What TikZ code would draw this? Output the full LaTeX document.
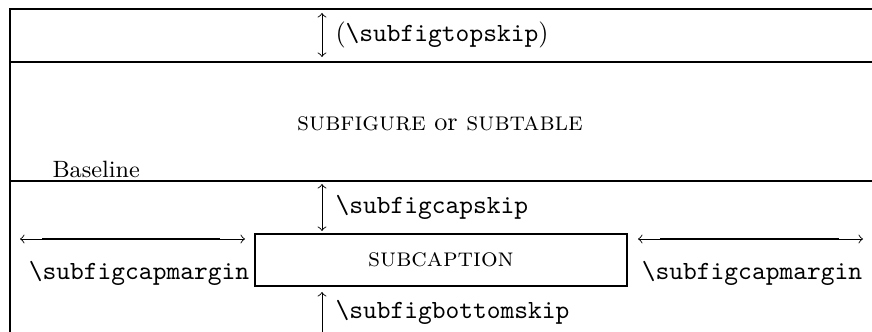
\documentclass[tikz,border=0pt]{standalone}
\usepackage{tikz}
\usetikzlibrary{positioning, arrows.meta, calc}

\begin{document}
\begin{tikzpicture}[
    x=0.3817pt, y=-0.3817pt,
    frameline/.style={line width=0.9pt},
    dimarrow/.style={<->, >=to, line width=0.35pt},
    dimrule/.style={line width=1pt},
    skiplabel/.style={anchor=west, inner sep=0pt, font=\ttfamily},
    capbox/.style={rectangle, draw=black, line width=0.9pt, minimum width=142pt, minimum height=19.8pt}
]
\useasboundingbox (0,0) rectangle (872,332);

% frame
\coordinate (tl) at (10,9);
\coordinate (tr) at (872,9);
\coordinate (bl) at (10,336);
\draw[frameline] (tr) -- (tl) -- (bl);
\draw[frameline] (10,62) -- (872,62);
\draw[frameline] (10,181) -- (872,181);

% top skip
\coordinate (top_a) at (322,13);
\coordinate (top_b) at (322,57);
\draw[dimarrow] (top_a) -- (top_b);
\node[skiplabel](topskip) at (335,35){\rmfamily(\ttfamily\textbackslash subfigtopskip\rmfamily)};

% subfigure body
\node(body) at (440,124){\textsc{subfigure} or \textsc{subtable}};
\node[anchor=base west, inner sep=0pt, font=\small](base) at (52,178){Baseline};

% caption skip
\coordinate (cap_a) at (322,184);
\coordinate (cap_b) at (322,231);
\draw[dimarrow] (cap_a) -- (cap_b);
\node[skiplabel](capskip) at (335,207){\textbackslash subfigcapskip};

% subcaption
\node[capbox](subcap) at (441,260){\textsc{subcaption}};

% margins
\coordinate (ml_a) at (20,239);
\coordinate (ml_b) at (245,239);
\draw[dimarrow] (ml_a) -- (ml_b);
\draw[dimrule] (42,239) -- (220,239);
\node[font=\ttfamily](margl) at (139,273){\textbackslash subfigcapmargin};

\coordinate (mr_a) at (638,239);
\coordinate (mr_b) at (863,239);
\draw[dimarrow] (mr_a) -- (mr_b);
\draw[dimrule] (660,239) -- (839,239);
\node[font=\ttfamily](margr) at (752,273){\textbackslash subfigcapmargin};

% bottom skip
\coordinate (bot_a) at (322,292);
\coordinate (bot_b) at (322,338);
\draw[dimarrow] (bot_a) -- (bot_b);
\node[skiplabel](botskip) at (335,312){\textbackslash subfigbottomskip};
\end{tikzpicture}
\end{document}
